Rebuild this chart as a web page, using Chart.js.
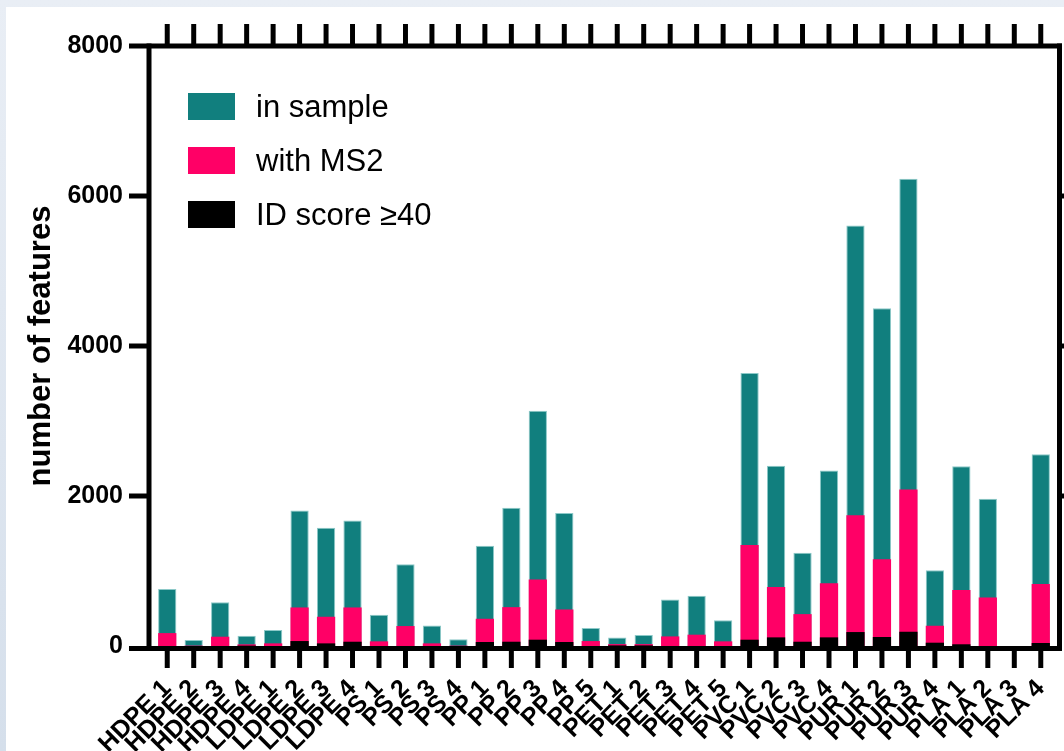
<!DOCTYPE html>
<html>
<head>
<meta charset="utf-8">
<script src="https://cdn.jsdelivr.net/npm/chart.js@4.4.0/dist/chart.umd.min.js"></script>
<style>
  html, body { margin: 0; padding: 0; background: #fff; }
</style>
</head>
<body>
<canvas id="featureChart" width="1064" height="751"></canvas>
<script>
const samples = [
    'HDPE 1', 'HDPE 2', 'HDPE 3', 'HDPE 4',
    'LDPE 1', 'LDPE 2', 'LDPE 3', 'LDPE 4',
    'PS 1', 'PS 2', 'PS 3', 'PS 4',
    'PP 1', 'PP 2', 'PP 3', 'PP 4', 'PP 5',
    'PET 1', 'PET 2', 'PET 3', 'PET 4', 'PET 5',
    'PVC 1', 'PVC 2', 'PVC 3', 'PVC 4',
    'PUR 1', 'PUR 2', 'PUR 3', 'PUR 4',
    'PLA 1', 'PLA 2', 'PLA 3', 'PLA 4'
];
const inSample = [
    760, 80, 585, 137,
    213, 1807, 1577, 1674,
    416, 1090, 275, 89,
    1338, 1843, 3136, 1772, 239,
    115, 146, 620, 669, 345,
    3641, 2405, 1245, 2339,
    5608, 4505, 6229, 1010,
    2396, 1963, 0, 2556
];
const withMS2 = [
    172, 5, 124, 22,
    35, 514, 390, 514,
    62, 266, 35, 5,
    363, 518, 886, 487, 66,
    25, 25, 128, 151, 62,
    1347, 788, 425, 837,
    1745, 1156, 2087, 270,
    748, 647, 0, 828
];
const idScore40 = [
    0, 0, 0, 5,
    0, 66, 35, 57,
    0, 0, 0, 0,
    53, 57, 84, 53, 0,
    8, 8, 0, 0, 0,
    84, 115, 57, 115,
    186, 120, 190, 44,
    23, 0, 0, 40
];
const yTicks = [0, 2000, 4000, 6000, 8000];
const seriesNames = ['in sample', 'with MS2', 'ID score ≥40'];
const seriesColors = ['#117f7e', '#ff0066', '#000000'];

const fontFamily = '"Liberation Sans", Arial, Helvetica, sans-serif';
Chart.defaults.font.family = fontFamily;
Chart.defaults.color = '#000';

// light blue frame round the white figure, as in the screenshot
const backgroundPlugin = {
    id: 'pageBackground',
    beforeDraw(chart) {
        const { ctx, width, height } = chart;
        ctx.save();
        const g = ctx.createLinearGradient(0, 0, 0, height);
        g.addColorStop(0, '#e9eef5');
        g.addColorStop(1, '#d5dfeb');
        ctx.fillStyle = g;
        ctx.fillRect(0, 0, width, height);
        ctx.fillStyle = '#ffffff';
        ctx.fillRect(6, 7, width - 6, height - 7);
        ctx.restore();
    }
};

// Prism-style box: thick axes with outward ticks on all four sides
const framePlugin = {
    id: 'prismFrame',
    afterDatasetsDraw(chart) {
        const { ctx, chartArea: a, scales: { x, y }, width } = chart;
        const line = (x1, y1, x2, y2) => {
            ctx.beginPath();
            ctx.moveTo(x1, y1);
            ctx.lineTo(x2, y2);
            ctx.stroke();
        };
        ctx.save();
        ctx.strokeStyle = '#000';
        ctx.lineWidth = 5;
        const leftX = a.left - 5;
        const rightX = a.right + 5.5;
        const topY = y.getPixelForValue(8000);
        const botY = y.getPixelForValue(0) + 2.5;

        line(129, topY, rightX + 2.5, topY);
        line(129, botY, rightX + 2.5, botY);
        line(leftX, topY - 2.5, leftX, botY + 2.5);
        line(rightX, topY - 2.5, rightX, botY + 2.5);

        yTicks.forEach(v => {
            if (v === 0 || v === 8000) return;
            const py = y.getPixelForValue(v);
            line(129, py, leftX, py);
            line(rightX, py, width + 10, py);
        });
        samples.forEach((s, i) => {
            const px = x.getPixelForValue(i);
            line(px, topY, px, 24);
            line(px, botY, px, 668);
        });
        ctx.restore();
    }
};

const legendPlugin = {
    id: 'insideLegend',
    afterDraw(chart) {
        const ctx = chart.ctx;
        ctx.save();
        ctx.font = '31px ' + fontFamily;
        ctx.textBaseline = 'alphabetic';
        ctx.textAlign = 'left';
        chart.data.datasets.forEach((ds, i) => {
            const top = 93 + i * 54;
            ctx.fillStyle = ds.backgroundColor;
            ctx.fillRect(188, top, 47, 27);
            ctx.fillStyle = '#000';
            ctx.fillText(ds.label, 256, top + 23.5);
        });
        ctx.restore();
    }
};

const featureChart = new Chart(document.getElementById('featureChart'), {
    type: 'bar',
    data: {
        labels: samples,
        datasets: [
            {
                label: seriesNames[0],
                data: inSample,
                backgroundColor: seriesColors[0],
                borderColor: '#8cc9c8',
                borderWidth: 1,
                order: 3
            },
            {
                label: seriesNames[1],
                data: withMS2,
                backgroundColor: seriesColors[1],
                order: 2
            },
            {
                label: seriesNames[2],
                data: idScore40,
                backgroundColor: seriesColors[2],
                order: 1
            }
        ]
    },
    options: {
        responsive: false,
        animation: false,
        datasets: {
            bar: { grouped: false, barPercentage: 0.69, categoryPercentage: 1 }
        },
        layout: { padding: { left: 0, right: 10, top: 43.5, bottom: 0 } },
        plugins: {
            legend: { display: false },
            tooltip: { enabled: false }
        },
        scales: {
            x: {
                offset: true,
                grid: { display: false, drawTicks: false },
                border: { display: false },
                ticks: {
                    autoSkip: false,
                    minRotation: 45,
                    maxRotation: 45,
                    padding: 28,
                    color: '#000',
                    font: { size: 25, weight: 'bold' }
                },
                afterFit: s => { s.height = 105; s.paddingLeft = 0; s.paddingRight = 0; }
            },
            y: {
                min: 0,
                max: 8000,
                grid: { display: false, drawTicks: false },
                border: { display: false },
                ticks: {
                    stepSize: 2000,
                    padding: 31,
                    color: '#000',
                    font: { size: 25, weight: 'bold' },
                    callback: value => String(value)
                },
                title: {
                    display: true,
                    text: 'number of features',
                    color: '#000',
                    font: { size: 31, weight: 'bold' },
                    padding: { top: 23, bottom: 0 }
                },
                afterFit: s => { s.width = 154; }
            }
        }
    },
    plugins: [backgroundPlugin, framePlugin, legendPlugin]
});
</script>
</body>
</html>
